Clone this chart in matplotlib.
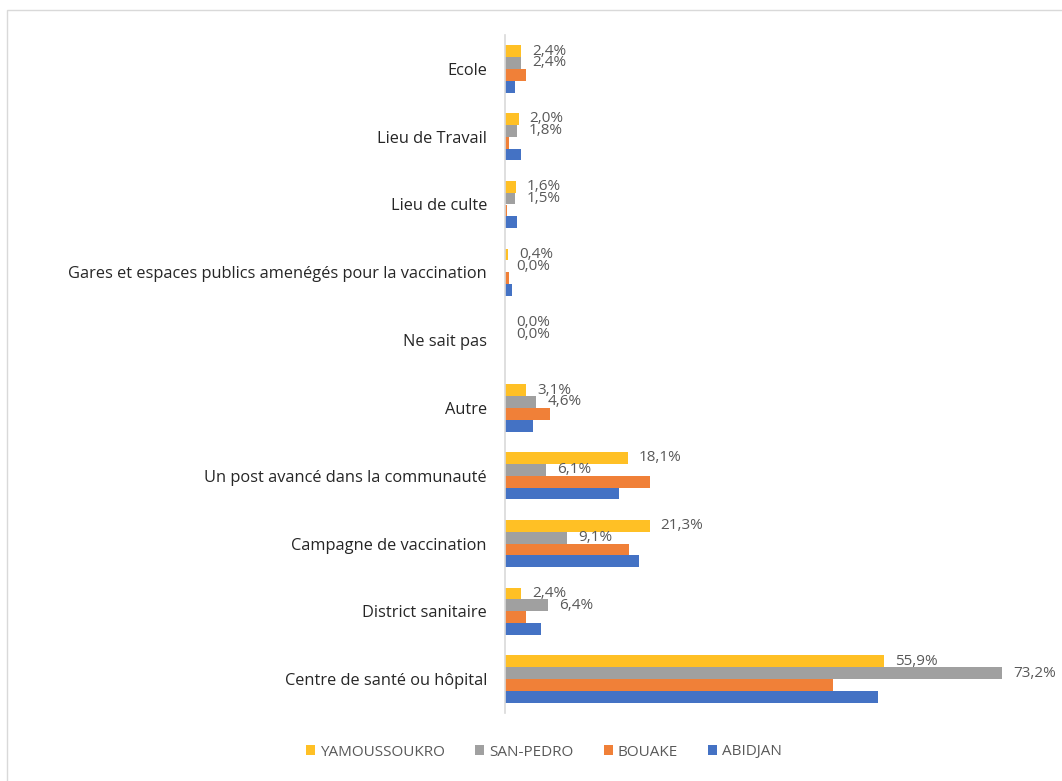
import numpy as np
import matplotlib
matplotlib.use("Agg")
import matplotlib.pyplot as plt
from matplotlib.patches import Rectangle

categories = [
    "Ecole",
    "Lieu de Travail",
    "Lieu de culte",
    "Gares et espaces publics amenégés pour la vaccination",
    "Ne sait pas",
    "Autre",
    "Un post avancé dans la communauté",
    "Campagne de vaccination",
    "District sanitaire",
    "Centre de santé ou hôpital",
]
series_names = ["YAMOUSSOUKRO", "SAN-PEDRO", "BOUAKE", "ABIDJAN"]
yamoussoukro = [2.4, 2.0, 1.6, 0.4, 0.0, 3.1, 18.1, 21.3, 2.4, 55.9]
san_pedro = [2.4, 1.8, 1.5, 0.0, 0.0, 4.6, 6.1, 9.1, 6.4, 73.2]
bouake = [3.1, 0.6, 0.3, 0.6, 0.0, 6.6, 21.3, 18.3, 3.1, 48.3]
abidjan = [1.4, 2.4, 1.8, 1.1, 0.0, 4.1, 16.8, 19.7, 5.3, 55.0]
labelled = [True, True, False, False]

colors = ["#FFC025", "#A0A0A0", "#F08038", "#4472C4"]
font = ["Open Sans", "DejaVu Sans"]

fig = plt.figure(figsize=(10.62, 7.81), dpi=100)
ax = fig.add_axes([505 / 1062, 1 - 713 / 781, 543 / 1062, 678 / 781])

# light frame around the chart
fig.patches.append(Rectangle((7 / 1062, -0.05), 1.1, 1 - 10 / 781 + 0.05,
                             transform=fig.transFigure, fill=False,
                             edgecolor="#D9D9D9", linewidth=1.0))

y = np.arange(len(categories))
h = 0.175
data = [yamoussoukro, san_pedro, bouake, abidjan]
for i, (name, vals, col) in enumerate(zip(series_names, data, colors)):
    pos = y + (i - 1.5) * h
    bars = ax.barh(pos, vals, height=h, color=col, label=name)
    if labelled[i]:
        for p, v in zip(pos, vals):
            ax.annotate(("%.1f%%" % v).replace(".", ","), xy=(v, p),
                        xytext=(8, 0), textcoords="offset points",
                        va="center", ha="left", fontsize=11,
                        color="#595959", family=font)

ax.set_ylim(len(categories) - 0.5, -0.5)
ax.set_xlim(0, 80)
ax.set_yticks(y)
ax.set_yticklabels(categories, fontsize=11.8, color="#262626", family=font)
ax.tick_params(axis="y", length=0, pad=13)
ax.set_xticks([])
for s in ["top", "right", "bottom"]:
    ax.spines[s].set_visible(False)
ax.spines["left"].set_color("#D9D9D9")
ax.spines["left"].set_linewidth(1.2)

leg = fig.legend(loc="center", bbox_to_anchor=(544 / 1062, 1 - 752 / 781),
                 ncol=4, frameon=False, handlelength=0.6, handleheight=0.6,
                 handletextpad=0.3, columnspacing=2.0,
                 prop={"family": font, "size": 11})
for t in leg.get_texts():
    t.set_color("#595959")

fig.savefig("out.png", dpi=100)
